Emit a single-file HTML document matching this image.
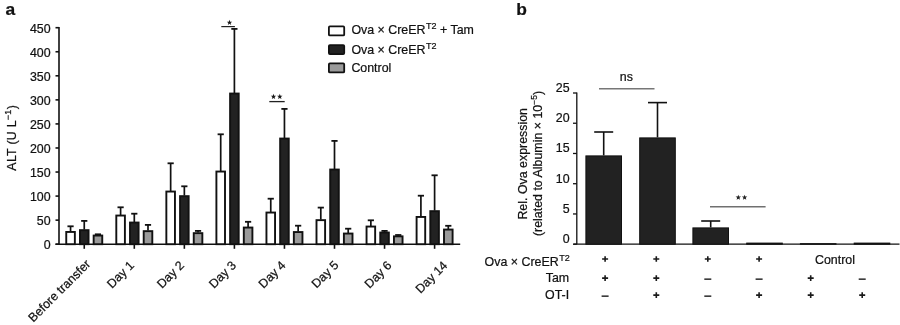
<!DOCTYPE html><html><head><meta charset="utf-8"><style>html,body{margin:0;padding:0;background:#fff;width:900px;height:325px;overflow:hidden}svg{display:block;will-change:transform}text{font-family:"Liberation Sans",sans-serif;fill:#111;stroke:#111;stroke-width:0.22px}</style></head><body>
<svg width="900" height="325" viewBox="0 0 900 325">
<rect width="900" height="325" fill="#fff"/>
<text x="5.5" y="15.4" font-size="17.4" font-weight="bold">a</text>
<text x="516.2" y="15.4" font-size="17.4" font-weight="bold">b</text>
<g stroke="#111" stroke-width="1.6" fill="none">
<line x1="59.0" y1="27.099999999999998" x2="59.0" y2="244.2"/>
<line x1="55.5" y1="244.2" x2="460.2" y2="244.2"/>
<line x1="55.5" y1="244.20" x2="59.0" y2="244.20"/>
<line x1="55.5" y1="220.14" x2="59.0" y2="220.14"/>
<line x1="55.5" y1="196.09" x2="59.0" y2="196.09"/>
<line x1="55.5" y1="172.03" x2="59.0" y2="172.03"/>
<line x1="55.5" y1="147.98" x2="59.0" y2="147.98"/>
<line x1="55.5" y1="123.92" x2="59.0" y2="123.92"/>
<line x1="55.5" y1="99.87" x2="59.0" y2="99.87"/>
<line x1="55.5" y1="75.81" x2="59.0" y2="75.81"/>
<line x1="55.5" y1="51.76" x2="59.0" y2="51.76"/>
<line x1="55.5" y1="27.70" x2="59.0" y2="27.70"/>
<line x1="84.25" y1="244.2" x2="84.25" y2="248.8"/>
<line x1="134.30" y1="244.2" x2="134.30" y2="248.8"/>
<line x1="184.35" y1="244.2" x2="184.35" y2="248.8"/>
<line x1="234.40" y1="244.2" x2="234.40" y2="248.8"/>
<line x1="284.45" y1="244.2" x2="284.45" y2="248.8"/>
<line x1="334.50" y1="244.2" x2="334.50" y2="248.8"/>
<line x1="384.55" y1="244.2" x2="384.55" y2="248.8"/>
<line x1="434.60" y1="244.2" x2="434.60" y2="248.8"/>
</g>
<text x="50.6" y="249.20" font-size="12.4" text-anchor="end">0</text>
<text x="50.6" y="225.14" font-size="12.4" text-anchor="end">50</text>
<text x="50.6" y="201.09" font-size="12.4" text-anchor="end">100</text>
<text x="50.6" y="177.03" font-size="12.4" text-anchor="end">150</text>
<text x="50.6" y="152.98" font-size="12.4" text-anchor="end">200</text>
<text x="50.6" y="128.92" font-size="12.4" text-anchor="end">250</text>
<text x="50.6" y="104.87" font-size="12.4" text-anchor="end">300</text>
<text x="50.6" y="80.81" font-size="12.4" text-anchor="end">350</text>
<text x="50.6" y="56.76" font-size="12.4" text-anchor="end">400</text>
<text x="50.6" y="32.70" font-size="12.4" text-anchor="end">450</text>
<line x1="70.55" y1="231.40" x2="70.55" y2="226.00" stroke="#111" stroke-width="1.7"/>
<line x1="67.45" y1="226.30" x2="73.65" y2="226.30" stroke="#111" stroke-width="1.8"/>
<rect x="66.25" y="231.95" width="8.60" height="12.25" fill="#fff" stroke="#111" stroke-width="1.9"/>
<line x1="84.25" y1="229.60" x2="84.25" y2="220.60" stroke="#111" stroke-width="1.7"/>
<line x1="81.15" y1="220.90" x2="87.35" y2="220.90" stroke="#111" stroke-width="1.8"/>
<rect x="79.95" y="230.15" width="8.60" height="14.05" fill="#222" stroke="#111" stroke-width="1.9"/>
<line x1="97.95" y1="235.00" x2="97.95" y2="234.00" stroke="#111" stroke-width="1.7"/>
<line x1="94.85" y1="234.30" x2="101.05" y2="234.30" stroke="#111" stroke-width="1.8"/>
<rect x="93.65" y="235.55" width="8.60" height="8.65" fill="#9a9a9a" stroke="#111" stroke-width="1.9"/>
<line x1="120.60" y1="215.00" x2="120.60" y2="207.00" stroke="#111" stroke-width="1.7"/>
<line x1="117.50" y1="207.30" x2="123.70" y2="207.30" stroke="#111" stroke-width="1.8"/>
<rect x="116.30" y="215.55" width="8.60" height="28.65" fill="#fff" stroke="#111" stroke-width="1.9"/>
<line x1="134.30" y1="222.00" x2="134.30" y2="213.40" stroke="#111" stroke-width="1.7"/>
<line x1="131.20" y1="213.70" x2="137.40" y2="213.70" stroke="#111" stroke-width="1.8"/>
<rect x="130.00" y="222.55" width="8.60" height="21.65" fill="#222" stroke="#111" stroke-width="1.9"/>
<line x1="148.00" y1="230.60" x2="148.00" y2="224.60" stroke="#111" stroke-width="1.7"/>
<line x1="144.90" y1="224.90" x2="151.10" y2="224.90" stroke="#111" stroke-width="1.8"/>
<rect x="143.70" y="231.15" width="8.60" height="13.05" fill="#9a9a9a" stroke="#111" stroke-width="1.9"/>
<line x1="170.65" y1="191.00" x2="170.65" y2="163.00" stroke="#111" stroke-width="1.7"/>
<line x1="167.55" y1="163.30" x2="173.75" y2="163.30" stroke="#111" stroke-width="1.8"/>
<rect x="166.35" y="191.55" width="8.60" height="52.65" fill="#fff" stroke="#111" stroke-width="1.9"/>
<line x1="184.35" y1="195.60" x2="184.35" y2="186.00" stroke="#111" stroke-width="1.7"/>
<line x1="181.25" y1="186.30" x2="187.45" y2="186.30" stroke="#111" stroke-width="1.8"/>
<rect x="180.05" y="196.15" width="8.60" height="48.05" fill="#222" stroke="#111" stroke-width="1.9"/>
<line x1="198.05" y1="232.60" x2="198.05" y2="230.60" stroke="#111" stroke-width="1.7"/>
<line x1="194.95" y1="230.90" x2="201.15" y2="230.90" stroke="#111" stroke-width="1.8"/>
<rect x="193.75" y="233.15" width="8.60" height="11.05" fill="#9a9a9a" stroke="#111" stroke-width="1.9"/>
<line x1="220.70" y1="171.00" x2="220.70" y2="134.00" stroke="#111" stroke-width="1.7"/>
<line x1="217.60" y1="134.30" x2="223.80" y2="134.30" stroke="#111" stroke-width="1.8"/>
<rect x="216.40" y="171.55" width="8.60" height="72.65" fill="#fff" stroke="#111" stroke-width="1.9"/>
<line x1="234.40" y1="93.00" x2="234.40" y2="28.60" stroke="#111" stroke-width="1.7"/>
<line x1="231.30" y1="28.90" x2="237.50" y2="28.90" stroke="#111" stroke-width="1.8"/>
<rect x="230.10" y="93.55" width="8.60" height="150.65" fill="#222" stroke="#111" stroke-width="1.9"/>
<line x1="248.10" y1="227.00" x2="248.10" y2="221.50" stroke="#111" stroke-width="1.7"/>
<line x1="245.00" y1="221.80" x2="251.20" y2="221.80" stroke="#111" stroke-width="1.8"/>
<rect x="243.80" y="227.55" width="8.60" height="16.65" fill="#9a9a9a" stroke="#111" stroke-width="1.9"/>
<line x1="270.75" y1="212.00" x2="270.75" y2="198.40" stroke="#111" stroke-width="1.7"/>
<line x1="267.65" y1="198.70" x2="273.85" y2="198.70" stroke="#111" stroke-width="1.8"/>
<rect x="266.45" y="212.55" width="8.60" height="31.65" fill="#fff" stroke="#111" stroke-width="1.9"/>
<line x1="284.45" y1="138.00" x2="284.45" y2="108.60" stroke="#111" stroke-width="1.7"/>
<line x1="281.35" y1="108.90" x2="287.55" y2="108.90" stroke="#111" stroke-width="1.8"/>
<rect x="280.15" y="138.55" width="8.60" height="105.65" fill="#222" stroke="#111" stroke-width="1.9"/>
<line x1="298.15" y1="231.50" x2="298.15" y2="225.40" stroke="#111" stroke-width="1.7"/>
<line x1="295.05" y1="225.70" x2="301.25" y2="225.70" stroke="#111" stroke-width="1.8"/>
<rect x="293.85" y="232.05" width="8.60" height="12.15" fill="#9a9a9a" stroke="#111" stroke-width="1.9"/>
<line x1="320.80" y1="219.60" x2="320.80" y2="207.30" stroke="#111" stroke-width="1.7"/>
<line x1="317.70" y1="207.60" x2="323.90" y2="207.60" stroke="#111" stroke-width="1.8"/>
<rect x="316.50" y="220.15" width="8.60" height="24.05" fill="#fff" stroke="#111" stroke-width="1.9"/>
<line x1="334.50" y1="169.00" x2="334.50" y2="140.60" stroke="#111" stroke-width="1.7"/>
<line x1="331.40" y1="140.90" x2="337.60" y2="140.90" stroke="#111" stroke-width="1.8"/>
<rect x="330.20" y="169.55" width="8.60" height="74.65" fill="#222" stroke="#111" stroke-width="1.9"/>
<line x1="348.20" y1="233.00" x2="348.20" y2="228.40" stroke="#111" stroke-width="1.7"/>
<line x1="345.10" y1="228.70" x2="351.30" y2="228.70" stroke="#111" stroke-width="1.8"/>
<rect x="343.90" y="233.55" width="8.60" height="10.65" fill="#9a9a9a" stroke="#111" stroke-width="1.9"/>
<line x1="370.85" y1="226.00" x2="370.85" y2="220.00" stroke="#111" stroke-width="1.7"/>
<line x1="367.75" y1="220.30" x2="373.95" y2="220.30" stroke="#111" stroke-width="1.8"/>
<rect x="366.55" y="226.55" width="8.60" height="17.65" fill="#fff" stroke="#111" stroke-width="1.9"/>
<line x1="384.55" y1="232.00" x2="384.55" y2="230.60" stroke="#111" stroke-width="1.7"/>
<line x1="381.45" y1="230.90" x2="387.65" y2="230.90" stroke="#111" stroke-width="1.8"/>
<rect x="380.25" y="232.55" width="8.60" height="11.65" fill="#222" stroke="#111" stroke-width="1.9"/>
<line x1="398.25" y1="235.80" x2="398.25" y2="234.70" stroke="#111" stroke-width="1.7"/>
<line x1="395.15" y1="235.00" x2="401.35" y2="235.00" stroke="#111" stroke-width="1.8"/>
<rect x="393.95" y="236.35" width="8.60" height="7.85" fill="#9a9a9a" stroke="#111" stroke-width="1.9"/>
<line x1="420.90" y1="216.40" x2="420.90" y2="195.40" stroke="#111" stroke-width="1.7"/>
<line x1="417.80" y1="195.70" x2="424.00" y2="195.70" stroke="#111" stroke-width="1.8"/>
<rect x="416.60" y="216.95" width="8.60" height="27.25" fill="#fff" stroke="#111" stroke-width="1.9"/>
<line x1="434.60" y1="210.60" x2="434.60" y2="175.00" stroke="#111" stroke-width="1.7"/>
<line x1="431.50" y1="175.30" x2="437.70" y2="175.30" stroke="#111" stroke-width="1.8"/>
<rect x="430.30" y="211.15" width="8.60" height="33.05" fill="#222" stroke="#111" stroke-width="1.9"/>
<line x1="448.30" y1="229.00" x2="448.30" y2="225.50" stroke="#111" stroke-width="1.7"/>
<line x1="445.20" y1="225.80" x2="451.40" y2="225.80" stroke="#111" stroke-width="1.8"/>
<rect x="444.00" y="229.55" width="8.60" height="14.65" fill="#9a9a9a" stroke="#111" stroke-width="1.9"/>
<line x1="221.3" y1="26.6" x2="234.9" y2="26.6" stroke="#222" stroke-width="1.2"/>
<polygon points="229.50,19.80 230.21,21.68 232.21,21.77 230.64,23.02 231.18,24.96 229.50,23.85 227.82,24.96 228.36,23.02 226.79,21.77 228.79,21.68" fill="#1a1a1a"/>
<line x1="269.3" y1="101.6" x2="284.7" y2="101.6" stroke="#222" stroke-width="1.3"/>
<polygon points="273.50,93.85 274.21,95.73 276.21,95.82 274.64,97.07 275.18,99.01 273.50,97.90 271.82,99.01 272.36,97.07 270.79,95.82 272.79,95.73" fill="#1a1a1a"/>
<polygon points="279.80,93.85 280.51,95.73 282.51,95.82 280.94,97.07 281.48,99.01 279.80,97.90 278.12,99.01 278.66,97.07 277.09,95.82 279.09,95.73" fill="#1a1a1a"/>
<rect x="328.9" y="26.40" width="15.3" height="9" rx="1" fill="#fff" stroke="#111" stroke-width="1.8"/>
<rect x="328.9" y="45.10" width="15.3" height="9" rx="1" fill="#222" stroke="#111" stroke-width="1.8"/>
<rect x="328.9" y="63.40" width="15.3" height="9" rx="1" fill="#9a9a9a" stroke="#111" stroke-width="1.8"/>
<text x="351.4" y="34.3" font-size="12.4">Ova × CreER<tspan dx="0.6" dy="-5.2" font-size="9">T2</tspan><tspan dy="5.2"> + Tam</tspan></text>
<text x="351.4" y="54.3" font-size="12.4">Ova × CreER<tspan dx="0.6" dy="-5.2" font-size="9">T2</tspan></text>
<text x="351.4" y="72.1" font-size="12.4">Control</text>
<text transform="translate(16.2,137.7) rotate(-90)" font-size="12.4" letter-spacing="0.25" text-anchor="middle">ALT (U L<tspan dy="-5.6" font-size="9">−1</tspan><tspan dy="5.6" dx="0.3">)</tspan></text>
<text transform="translate(91.3,264.8) rotate(-45)" font-size="12.4" text-anchor="end">Before transfer</text>
<text transform="translate(134.9,266) rotate(-45)" font-size="12.4" text-anchor="end">Day 1</text>
<text transform="translate(184.9,266.1) rotate(-45)" font-size="12.4" text-anchor="end">Day 2</text>
<text transform="translate(236.9,266) rotate(-45)" font-size="12.4" text-anchor="end">Day 3</text>
<text transform="translate(286.5,266) rotate(-45)" font-size="12.4" text-anchor="end">Day 4</text>
<text transform="translate(339.4,265.9) rotate(-45)" font-size="12.4" text-anchor="end">Day 5</text>
<text transform="translate(392.5,266.1) rotate(-45)" font-size="12.4" text-anchor="end">Day 6</text>
<text transform="translate(448.2,266.3) rotate(-45)" font-size="12.4" text-anchor="end">Day 14</text>
<g stroke="#111" stroke-width="1.3" fill="none">
<line x1="576.8" y1="92.5" x2="576.8" y2="244.2"/>
<line x1="573.5" y1="244.2" x2="899.5" y2="244.2"/>
<line x1="573" y1="244.20" x2="576.8" y2="244.20"/>
<line x1="573" y1="213.96" x2="576.8" y2="213.96"/>
<line x1="573" y1="183.72" x2="576.8" y2="183.72"/>
<line x1="573" y1="153.48" x2="576.8" y2="153.48"/>
<line x1="573" y1="123.24" x2="576.8" y2="123.24"/>
<line x1="573" y1="93.00" x2="576.8" y2="93.00"/>
</g>
<text x="569.6" y="243.00" font-size="12.4" text-anchor="end">0</text>
<text x="569.6" y="212.76" font-size="12.4" text-anchor="end">5</text>
<text x="569.6" y="182.52" font-size="12.4" text-anchor="end">10</text>
<text x="569.6" y="152.28" font-size="12.4" text-anchor="end">15</text>
<text x="569.6" y="122.04" font-size="12.4" text-anchor="end">20</text>
<text x="569.6" y="91.80" font-size="12.4" text-anchor="end">25</text>
<line x1="603.7" y1="155.4" x2="603.7" y2="132" stroke="#111" stroke-width="1.6"/>
<line x1="594.2" y1="132" x2="613.2" y2="132" stroke="#111" stroke-width="1.6"/>
<rect x="585.90" y="155.90" width="35.60" height="88.30" fill="#222" stroke="#111" stroke-width="1"/>
<line x1="657.5" y1="137.4" x2="657.5" y2="102.6" stroke="#111" stroke-width="1.6"/>
<line x1="648.0" y1="102.6" x2="667.0" y2="102.6" stroke="#111" stroke-width="1.6"/>
<rect x="639.70" y="137.90" width="35.60" height="106.30" fill="#222" stroke="#111" stroke-width="1"/>
<line x1="710.7" y1="227.4" x2="710.7" y2="221" stroke="#111" stroke-width="1.6"/>
<line x1="701.2" y1="221" x2="720.2" y2="221" stroke="#111" stroke-width="1.6"/>
<rect x="692.90" y="227.90" width="35.60" height="16.30" fill="#222" stroke="#111" stroke-width="1"/>
<rect x="746.70" y="243.10" width="35.60" height="1.10" fill="#222" stroke="#111" stroke-width="1"/>
<rect x="800.40" y="243.70" width="35.60" height="0.50" fill="#222" stroke="#111" stroke-width="1"/>
<rect x="854.20" y="243.10" width="35.60" height="1.10" fill="#222" stroke="#111" stroke-width="1"/>
<line x1="599" y1="88.8" x2="654.5" y2="88.8" stroke="#777" stroke-width="1.5"/>
<text x="626.3" y="81" font-size="12.4" text-anchor="middle" fill="#333">ns</text>
<line x1="710" y1="206.8" x2="765.6" y2="206.8" stroke="#707070" stroke-width="1.4"/>
<polygon points="738.30,194.65 739.01,196.53 741.01,196.62 739.44,197.87 739.98,199.81 738.30,198.70 736.62,199.81 737.16,197.87 735.59,196.62 737.59,196.53" fill="#222"/>
<polygon points="744.60,194.65 745.31,196.53 747.31,196.62 745.74,197.87 746.28,199.81 744.60,198.70 742.92,199.81 743.46,197.87 741.89,196.62 743.89,196.53" fill="#222"/>
<text transform="translate(527,163.8) rotate(-90)" font-size="12.4" text-anchor="middle">Rel. Ova expression</text>
<text transform="translate(541.5,163.5) rotate(-90)" font-size="12.4" text-anchor="middle">(related to Albumin × 10<tspan dy="-4.5" font-size="8.5">−5</tspan><tspan dy="4.5">)</tspan></text>
<text x="484.6" y="265.8" font-size="12.4">Ova × CreER<tspan dx="0.6" dy="-5.2" font-size="9">T2</tspan></text>
<text x="569.2" y="281.8" font-size="12.4" text-anchor="end">Tam</text>
<text x="569.2" y="299.1" font-size="12.4" text-anchor="end">OT-I</text>
<g stroke="#1a1a1a" fill="none">
<path d="M602.10 259.00H608.10M605.10 256.20V261.80" stroke-width="1.6"/>
<path d="M653.30 259.00H659.30M656.30 256.20V261.80" stroke-width="1.6"/>
<path d="M704.80 259.00H710.80M707.80 256.20V261.80" stroke-width="1.6"/>
<path d="M756.10 259.00H762.10M759.10 256.20V261.80" stroke-width="1.6"/>
<path d="M602.10 278.10H608.10M605.10 275.30V280.90" stroke-width="1.6"/>
<path d="M653.30 278.10H659.30M656.30 275.30V280.90" stroke-width="1.6"/>
<path d="M704.30 279.15H711.30" stroke-width="1.4"/>
<path d="M755.60 279.15H762.60" stroke-width="1.4"/>
<path d="M807.70 278.10H813.70M810.70 275.30V280.90" stroke-width="1.6"/>
<path d="M858.70 279.15H865.70" stroke-width="1.4"/>
<path d="M601.60 296.15H608.60" stroke-width="1.4"/>
<path d="M653.30 295.10H659.30M656.30 292.30V297.90" stroke-width="1.6"/>
<path d="M704.30 296.15H711.30" stroke-width="1.4"/>
<path d="M756.10 295.10H762.10M759.10 292.30V297.90" stroke-width="1.6"/>
<path d="M807.70 295.10H813.70M810.70 292.30V297.90" stroke-width="1.6"/>
<path d="M859.20 295.10H865.20M862.20 292.30V297.90" stroke-width="1.6"/>
</g>
<text x="835" y="263.5" font-size="12.4" text-anchor="middle">Control</text>
</svg></body></html>
